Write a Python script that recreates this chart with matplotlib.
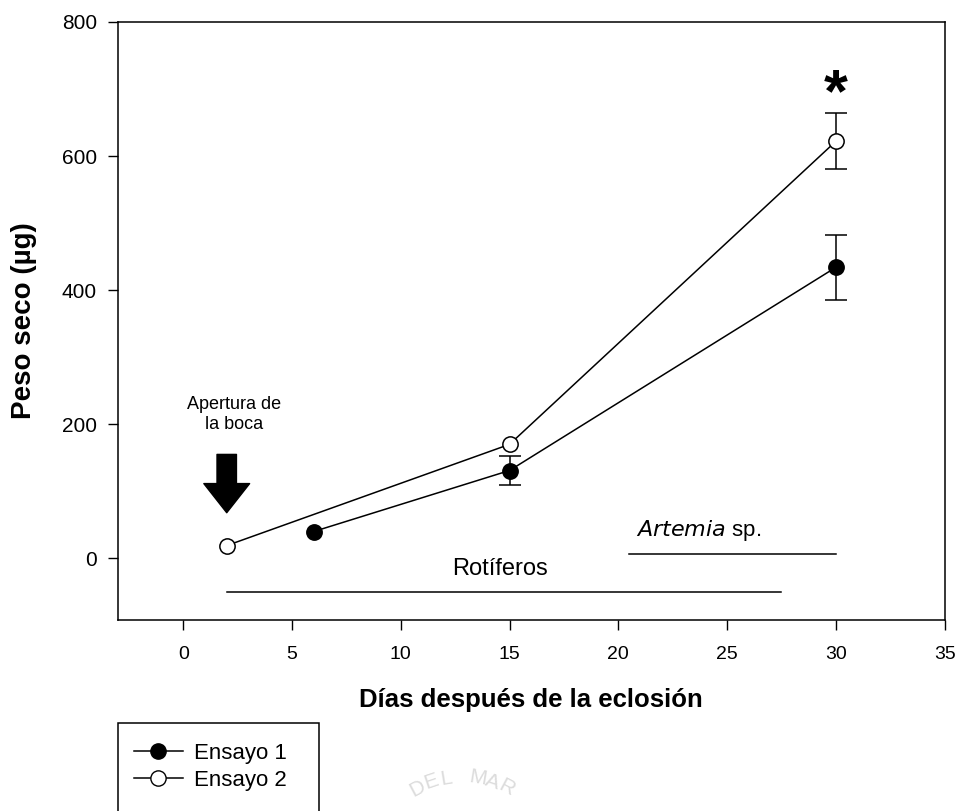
import numpy as np
import matplotlib.pyplot as plt
from matplotlib.patches import Rectangle
from matplotlib.lines import Line2D

plt.rcParams['font.family'] = ['Liberation Sans', 'DejaVu Sans']

# datos
dias_1 = [6, 15, 30]
peso_1 = [40, 131, 434]
err_1 = [0, 22, 48]

dias_2 = [2, 15, 30]
peso_2 = [19, 170, 622]
err_2 = [0, 0, 42]

rotiferos = [2, 27.5]
artemia = [20.5, 30]

fig = plt.figure(figsize=(9.59, 8.11), dpi=100)
ax = fig.add_axes([0.123, 0.2355, 0.862, 0.7374])


def serie(dias, peso, err, mfc, z):
    ax.plot(dias, peso, color='black', lw=1.1, marker='o', ms=11, mfc=mfc,
            mec='black', mew=1.1, zorder=z)
    sel = [i for i, e in enumerate(err) if e > 0]
    ax.errorbar([dias[i] for i in sel], [peso[i] for i in sel],
                yerr=[err[i] for i in sel], fmt='none', ecolor='black',
                elinewidth=1.1, capsize=8, capthick=1.1, zorder=z - 1)


serie(dias_1, peso_1, err_1, 'black', 3)
serie(dias_2, peso_2, err_2, 'white', 5)

# barras de alimentación
ax.plot(rotiferos, [-50, -50], color='black', lw=1.1)
ax.plot(artemia, [7, 7], color='black', lw=1.1)
ax.text(14.55, -16, 'Rotíferos', ha='center', va='center', fontsize=17)
ax.text(23.7, 42, r'$\it{Artemia}$ sp.', ha='center', va='center', fontsize=16)

# flecha apertura de la boca
ax.annotate('', xy=(2, 68), xytext=(2, 155),
            arrowprops=dict(facecolor='black', edgecolor='black', width=14,
                            headwidth=33, headlength=21, shrink=0))
ax.text(2.35, 215, 'Apertura de\nla boca', ha='center', va='center',
        fontsize=13, linespacing=1.25)

ax.text(30, 690, '*', ha='center', va='center', fontsize=44, fontweight='bold')

ax.set_xlim(-3, 35)
ax.set_ylim(-92, 800)
ax.set_xticks([0, 5, 10, 15, 20, 25, 30, 35])
ax.set_yticks([0, 200, 400, 600, 800])
ax.tick_params(direction='out', length=7, width=1, labelsize=14, pad=12)
ax.tick_params(axis='y', labelsize=15, pad=8)
for s in ax.spines.values():
    s.set_linewidth(1.1)

ax.set_xlabel('Días después de la eclosión', fontsize=18.5, fontweight='bold',
              labelpad=18)
ax.set_ylabel('Peso seco (µg)', fontsize=20, fontweight='bold', labelpad=18)

# leyenda en recuadro cortado
fig.patches.append(Rectangle((118 / 959, -0.05), 201 / 959, 0.05 + 88 / 811,
                             transform=fig.transFigure, fill=False,
                             edgecolor='black', lw=1.1))
h1 = Line2D([], [], color='black', lw=1.1, marker='o', ms=11, mfc='black')
h2 = Line2D([], [], color='black', lw=1.1, marker='o', ms=11, mfc='white')
fig.legend([h1, h2], ['Ensayo 1', 'Ensayo 2'], loc='upper left',
           bbox_to_anchor=(134 / 959, 1 - 743 / 811), frameon=False,
           fontsize=16, handlelength=2.2, handletextpad=0.5, labelspacing=0.25,
           borderaxespad=0, borderpad=0)

# marca de agua tenue
letras = 'DEL MAR'
ang = np.linspace(118, 62, len(letras))
for c, a in zip(letras, ang):
    r = np.radians(a)
    fig.text((462 + 95 * np.cos(r)) / 959, 1 - (872 - 95 * np.sin(r)) / 811, c,
             rotation=a - 90, ha='center', va='center', fontsize=15,
             color='#dcdcdc', zorder=0)

fig.savefig('out.png', dpi=100)
